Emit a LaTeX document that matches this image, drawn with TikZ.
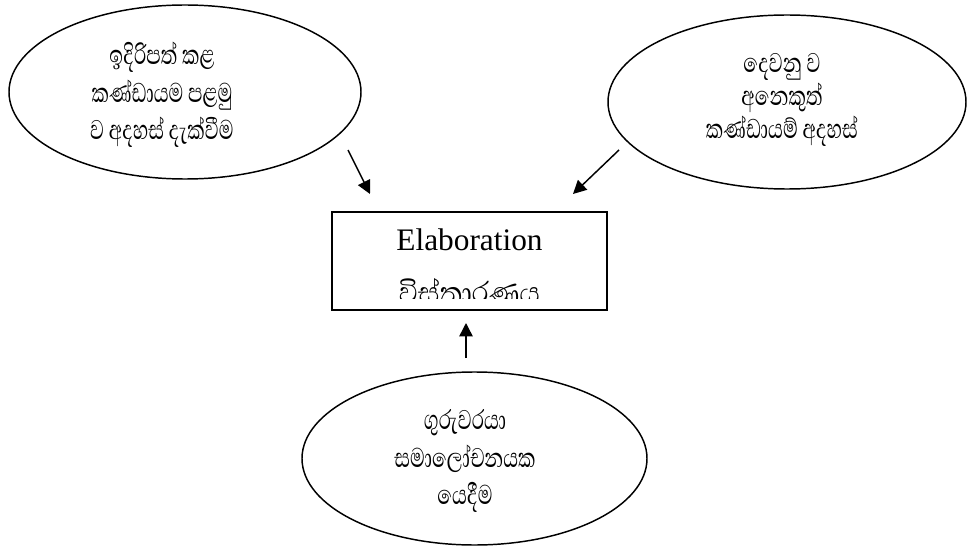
\documentclass[tikz,border=0pt]{standalone}
\usepackage{fontspec}
\setmainfont{Liberation Serif}
\newfontfamily\sinhalafnt[Script=Sinhala,FakeStretch=0.71]{Abhaya Libre}
\newfontfamily\sinhalabox[Script=Sinhala,FakeStretch=0.87]{Abhaya Libre}
\usetikzlibrary{shapes.geometric,arrows.meta}
\tikzset{
  bubble/.style={draw=black,line width=1.1pt,ellipse,inner sep=0pt},
  sintext/.style={align=center,font=\sinhalafnt\fontsize{26}{28}\selectfont,inner sep=0pt},
  conn/.style={line width=1.1pt,-{Triangle[length=10pt,width=10pt]}},
}
\begin{document}
\begin{tikzpicture}[x=0.75pt,y=-0.75pt]
\useasboundingbox (0,0) rectangle (968,549);
% ellipses
\node[bubble,minimum width=264pt,minimum height=130.5pt] (L) at (185,92) {};
\node[bubble,minimum width=268.5pt,minimum height=130.5pt] (R) at (787,102) {};
\node[bubble,minimum width=258.75pt,minimum height=129.75pt] (B) at (474.5,458.5) {};
% texts
\node[sintext] (Lt) at (162,95) {ඉදිරිපත් කළ\\කණ්ඩායම පළමු\\ව අදහස් දැක්වීම};
\node[sintext,font=\sinhalafnt\fontsize{26}{25}\selectfont] (Rt) at (782,100) {දෙවනු ව\\අනෙකුත්\\කණ්ඩායම් අදහස්};
\node[sintext] (Bt) at (465,461) {ගුරුවරයා\\සමාලෝචනයක\\යෙදීම};
% box
\node[draw=black,line width=1pt,minimum width=206.25pt,minimum height=73.5pt,inner sep=0pt] (box) at (469.5,261) {};
\begin{scope}
\clip (332,212) rectangle (607,298);
\node[anchor=base,inner sep=0pt,font=\fontsize{23.5}{28}\selectfont] (el) at (469.5,251) {Elaboration};
\node[anchor=base,inner sep=0pt,font=\sinhalabox\fontsize{29}{30}\selectfont] (vi) at (469.5,303) {විස්තාරණය};
\end{scope}
% arrows
\coordinate (a1s) at (348,150);
\coordinate (a1e) at (370,194);
\coordinate (a2s) at (619,150);
\coordinate (a2e) at (573,194);
\coordinate (a3s) at (466,358);
\coordinate (a3e) at (466,323);
\draw[conn] (a1s) -- (a1e);
\draw[conn] (a2s) -- (a2e);
\draw[conn] (a3s) -- (a3e);
\end{tikzpicture}
\end{document}
